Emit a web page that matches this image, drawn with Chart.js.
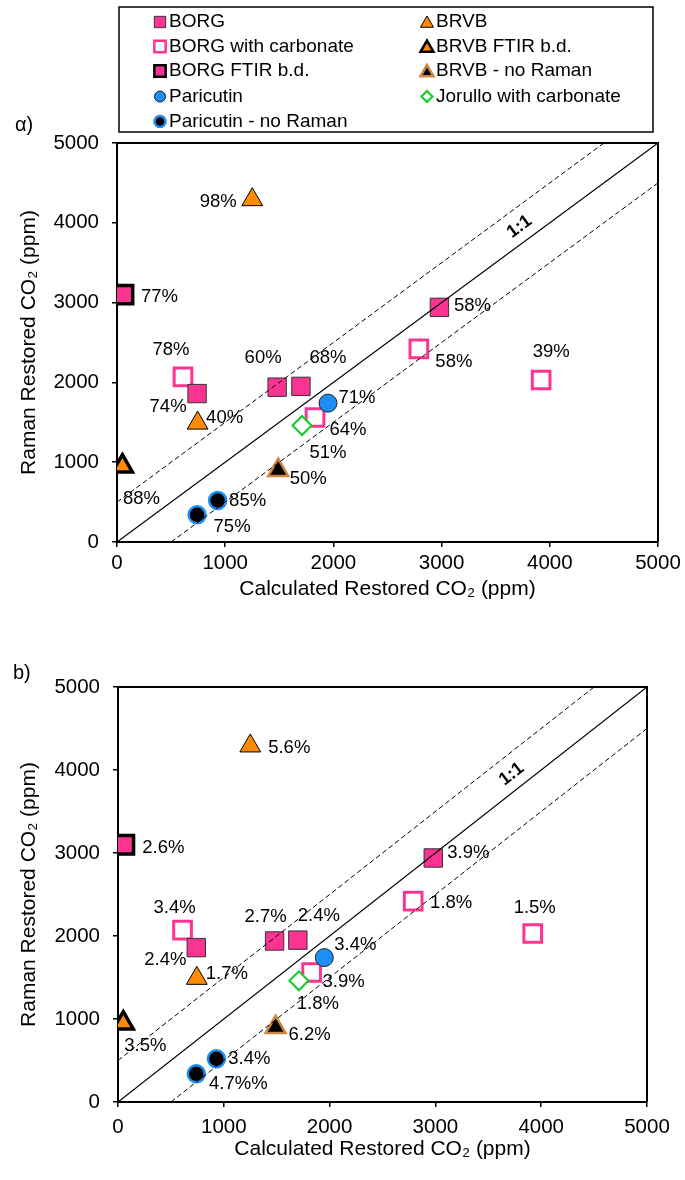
<!DOCTYPE html>
<html>
<head>
<meta charset="utf-8">
<script src="https://cdn.jsdelivr.net/npm/chart.js@4/dist/chart.umd.min.js"></script>
<style>
  html, body { margin: 0; padding: 0; background: #fff; }
  #wrap { position: relative; width: 685px; height: 1180px; overflow: hidden; }
  canvas { position: absolute; left: 0; }
  #chartA { top: 0; }
  #chartB { top: 610px; }
  .panel { position: absolute; font: 20px "Liberation Sans", Arial, sans-serif; color: #000; line-height: 1; }
</style>
</head>
<body>
<div id="wrap">
  <canvas id="chartA" width="685" height="610" style="width:685px;height:610px"></canvas>
  <canvas id="chartB" width="685" height="570" style="width:685px;height:570px"></canvas>
  <div class="panel" style="left:15px;top:114px">α)</div>
  <div class="panel" style="left:13px;top:662px">b)</div>
</div>
<script>
// ---- axis ticks ----
const tickValues = [0, 1000, 2000, 3000, 4000, 5000];
const tickLabels = ['0', '1000', '2000', '3000', '4000', '5000'];

// ---- guide lines (1:1 and +/-500 ppm) ----
const oneToOneX = [0, 5000];
const oneToOneY = [0, 5000];
const upperX = [0, 4500];
const upperY = [500, 5000];
const lowerX = [500, 5000];
const lowerY = [0, 4500];
const oneToOneTextAt = [3720, 3950];

// ---- series: calculated (x) vs Raman (y) restored CO2, ppm ----
const borgCalc = [2980, 1480, 1700, 740];
const borgRaman = [2940, 1940, 1950, 1860];
const borgPctA = ['58%', '60%', '68%', '74%'];
const borgPctB = ['3.9%', '2.7%', '2.4%', '2.4%'];

const borgCarbCalc = [610, 2790, 3920, 1830];
const borgCarbRaman = [2070, 2420, 2030, 1560];
const borgCarbPctA = ['78%', '58%', '39%', '64%'];
const borgCarbPctB = ['3.4%', '1.8%', '1.5%', '3.9%'];

const borgBdCalc = [60];
const borgBdRaman = [3100];
const borgBdPctA = ['77%'];
const borgBdPctB = ['2.6%'];

const paricutinCalc = [1950];
const paricutinRaman = [1740];
const paricutinPctA = ['71%'];
const paricutinPctB = ['3.4%'];

const paricutinNoRamanCalc = [930, 740];
const paricutinNoRamanRaman = [520, 340];
const paricutinNoRamanPctA = ['85%', '75%'];
const paricutinNoRamanPctB = ['3.4%', '4.7%%'];

const brvbCalc = [1250, 745];
const brvbRaman = [4290, 1490];
const brvbPctA = ['98%', '40%'];
const brvbPctB = ['5.6%', '1.7%'];

const brvbBdCalc = [50];
const brvbBdRaman = [950];
const brvbBdPctA = ['88%'];
const brvbBdPctB = ['3.5%'];

const brvbNoRamanCalc = [1490];
const brvbNoRamanRaman = [900];
const brvbNoRamanPctA = ['50%'];
const brvbNoRamanPctB = ['6.2%'];

const jorulloCalc = [1710];
const jorulloRaman = [1460];
const jorulloPctA = ['51%'];
const jorulloPctB = ['1.8%'];

// ---- label placement (pixel offsets of each percentage from its marker) ----
const offA = {
  borg: [[33, -1], [-14, -29], [27, -28], [-29, 13]],
  borgCarb: [[-12, -27], [35, 13], [10, -28], [33, 12]],
  borgBd: [[36, 2]],
  paricutin: [[29, -5]],
  paricutinNoRaman: [[30, 0], [35, 12]],
  brvb: [[-34, 2], [27, -5]],
  brvbBd: [[19, 33]],
  brvbNoRaman: [[30, 9]],
  jorullo: [[26, 27]]
};
const offB = {
  borg: [[35, -5], [-9, -24], [21, -24], [-31, 12]],
  borgCarb: [[-8, -22], [38, 2], [2, -26], [32, 9]],
  borgBd: [[39, 3]],
  paricutin: [[31, -13]],
  paricutinNoRaman: [[33, 0], [42, 10]],
  brvb: [[39, 2], [30, -4]],
  brvbBd: [[22, 23]],
  brvbNoRaman: [[34, 8]],
  jorullo: [[19, 23]]
};

// ---- marker styles ----
const PINK = '#fb3492';
const BLUE = '#1c8ef5';
const ORANGE = '#ff8c00';
const TAN = '#cd853f';
const GREEN = '#11cc22';

const styles = {
  borg: { pointStyle: 'rect', radius: 13, bg: PINK, border: '#333', bw: 1 },
  borgCarb: { pointStyle: 'rect', radius: 12.5, bg: '#fff', border: PINK, bw: 3 },
  borgBd: { pointStyle: 'rect', radius: 13, bg: PINK, border: '#000', bw: 3.5 },
  paricutin: { pointStyle: 'circle', radius: 9, bg: BLUE, border: '#222', bw: 1 },
  paricutinNoRaman: { pointStyle: 'circle', radius: 8.5, bg: '#000', border: BLUE, bw: 2.5 },
  brvb: { pointStyle: 'triangle', radius: 12, bg: ORANGE, border: '#000', bw: 1 },
  brvbBd: { pointStyle: 'triangle', radius: 11.5, bg: ORANGE, border: '#000', bw: 3.5 },
  brvbNoRaman: { pointStyle: 'triangle', radius: 11.5, bg: '#000', border: TAN, bw: 2.5 },
  jorullo: { pointStyle: 'rectRot', radius: 9.5, bg: '#fff', border: GREEN, bw: 2 }
};

// series table (drawing order: first entry ends up on top)
const series = [
  { key: 'jorullo', name: 'Jorullo with carbonate', x: jorulloCalc, y: jorulloRaman, a: jorulloPctA, b: jorulloPctB },
  { key: 'paricutin', name: 'Paricutin', x: paricutinCalc, y: paricutinRaman, a: paricutinPctA, b: paricutinPctB },
  { key: 'paricutinNoRaman', name: 'Paricutin - no Raman', x: paricutinNoRamanCalc, y: paricutinNoRamanRaman, a: paricutinNoRamanPctA, b: paricutinNoRamanPctB },
  { key: 'brvb', name: 'BRVB', x: brvbCalc, y: brvbRaman, a: brvbPctA, b: brvbPctB },
  { key: 'brvbBd', name: 'BRVB FTIR b.d.', x: brvbBdCalc, y: brvbBdRaman, a: brvbBdPctA, b: brvbBdPctB },
  { key: 'brvbNoRaman', name: 'BRVB - no Raman', x: brvbNoRamanCalc, y: brvbNoRamanRaman, a: brvbNoRamanPctA, b: brvbNoRamanPctB },
  { key: 'borg', name: 'BORG', x: borgCalc, y: borgRaman, a: borgPctA, b: borgPctB },
  { key: 'borgBd', name: 'BORG FTIR b.d.', x: borgBdCalc, y: borgBdRaman, a: borgBdPctA, b: borgBdPctB },
  { key: 'borgCarb', name: 'BORG with carbonate', x: borgCarbCalc, y: borgCarbRaman, a: borgCarbPctA, b: borgCarbPctB }
];

// legend layout: [series key, column, row]
const legendOrder = [
  ['borg', 0, 0], ['borgCarb', 0, 1], ['borgBd', 0, 2], ['paricutin', 0, 3], ['paricutinNoRaman', 0, 4],
  ['brvb', 1, 0], ['brvbBd', 1, 1], ['brvbNoRaman', 1, 2], ['jorullo', 1, 3]
];

const FONT = '"Liberation Sans", Arial, Helvetica, sans-serif';

function pts(xs, ys) { return xs.map((v, i) => ({ x: v, y: ys[i] })); }

function buildDatasets(panel) {
  const guide = (xs, ys, dash, w) => ({
    label: '', data: pts(xs, ys), showLine: true, pointRadius: 0,
    borderColor: '#000', borderWidth: w, borderDash: dash, fill: false
  });
  // guide lines come first so they are painted over the markers
  const ds = [
    guide(oneToOneX, oneToOneY, [], 1.2),
    guide(upperX, upperY, [5, 3], 1),
    guide(lowerX, lowerY, [5, 3], 1)
  ];
  series.forEach(s => {
    const st = styles[s.key];
    ds.push({
      label: s.name,
      data: pts(s.x, s.y),
      pct: panel === 'a' ? s.a : s.b,
      off: (panel === 'a' ? offA : offB)[s.key],
      pointStyle: st.pointStyle,
      pointRadius: st.radius,
      pointHoverRadius: st.radius,
      pointBackgroundColor: st.bg,
      pointBorderColor: st.border,
      pointBorderWidth: st.bw,
      showLine: false
    });
  });
  return ds;
}

// percentage labels next to each marker
const pctLabels = {
  id: 'pctLabels',
  afterDatasetsDraw(chart) {
    const ctx = chart.ctx;
    ctx.save();
    ctx.font = '18.5px ' + FONT;
    ctx.fillStyle = '#000';
    ctx.textAlign = 'center';
    ctx.textBaseline = 'middle';
    chart.data.datasets.forEach((d, i) => {
      if (!d.pct) return;
      const meta = chart.getDatasetMeta(i);
      meta.data.forEach((el, j) => {
        const o = d.off[j];
        ctx.fillText(d.pct[j], el.x + o[0], el.y + o[1]);
      });
    });
    ctx.restore();
  }
};

// frame on top/right + "1:1" tag
const frameAndTag = {
  id: 'frameAndTag',
  afterDraw(chart) {
    const ctx = chart.ctx, a = chart.chartArea;
    const xs = chart.scales.x, ys = chart.scales.y;
    ctx.save();
    ctx.strokeStyle = '#000';
    ctx.lineWidth = 2;
    ctx.beginPath();
    ctx.moveTo(a.left, a.top);
    ctx.lineTo(a.right, a.top);
    ctx.lineTo(a.right, a.bottom);
    ctx.stroke();
    const x0 = xs.getPixelForValue(oneToOneX[0]), y0 = ys.getPixelForValue(oneToOneY[0]);
    const x1 = xs.getPixelForValue(oneToOneX[1]), y1 = ys.getPixelForValue(oneToOneY[1]);
    const ang = Math.atan2(y1 - y0, x1 - x0);
    ctx.translate(xs.getPixelForValue(oneToOneTextAt[0]), ys.getPixelForValue(oneToOneTextAt[1]));
    ctx.rotate(ang);
    ctx.font = 'bold 18px ' + FONT;
    ctx.fillStyle = '#000';
    ctx.textAlign = 'center';
    ctx.textBaseline = 'middle';
    ctx.fillText('1:1', 0, 0);
    ctx.restore();
  }
};

function marker(ctx, st, x, y, r) {
  ctx.save();
  ctx.fillStyle = st.bg;
  ctx.strokeStyle = st.border;
  ctx.lineWidth = st.bw;
  const opts = { pointStyle: st.pointStyle, radius: r, rotation: 0, borderWidth: st.bw };
  Chart.helpers.drawPoint(ctx, opts, x, y);
  ctx.restore();
}

// two-column key above panel a
const keyBox = {
  id: 'keyBox',
  afterDraw(chart) {
    const ctx = chart.ctx;
    ctx.save();
    ctx.strokeStyle = '#000';
    ctx.lineWidth = 1.5;
    ctx.strokeRect(119, 7, 534, 125);
    ctx.font = '19px ' + FONT;
    ctx.textBaseline = 'middle';
    const rowsY = [22, 46.5, 71, 96.5, 121.5];
    const markX = [160, 427];
    const textX = [169, 436];
    legendOrder.forEach(([key, col, row]) => {
      const st = styles[key];
      const s = series.find(q => q.key === key);
      const r = { rect: 8, circle: 5.5, triangle: 7.5, rectRot: 5.5 }[st.pointStyle];
      const lst = Object.assign({}, st, { bw: st.bw > 2 ? 2.5 : st.bw });
      marker(ctx, lst, markX[col], rowsY[row] + (st.pointStyle === 'triangle' ? 1.5 : 0), r);
      ctx.fillStyle = '#000';
      ctx.fillText(s.name, textX[col], rowsY[row]);
    });
    ctx.restore();
  }
};

function axisOpts(title, fixedSize, isX, tickPad, titlePad) {
  return {
    type: 'linear',
    min: 0,
    max: 5000,
    afterBuildTicks(scale) { scale.ticks = tickValues.map(v => ({ value: v })); },
    afterFit(scale) { if (isX) scale.height = fixedSize; else scale.width = fixedSize; },
    grid: { drawOnChartArea: false, drawTicks: true, tickLength: 5, color: '#000', lineWidth: 1.5 },
    border: { display: true, color: '#000', width: 2 },
    ticks: {
      color: '#000', font: { family: FONT, size: 20.5 }, padding: tickPad, maxRotation: 0, autoSkip: false,
      callback: (v) => tickLabels[tickValues.indexOf(v)]
    },
    title: { display: true, text: title, color: '#000', font: { family: FONT, size: 21 }, padding: titlePad }
  };
}

function makeChart(id, panel, geom) {
  return new Chart(document.getElementById(id), {
    type: 'scatter',
    data: { datasets: buildDatasets(panel) },
    options: {
      responsive: false,
      devicePixelRatio: 1,
      animation: false,
      events: [],
      layout: { padding: { top: geom.top, right: geom.right, left: 0, bottom: 0 } },
      plugins: { legend: { display: false }, tooltip: { enabled: false } },
      scales: {
        x: axisOpts('Calculated Restored CO\u2082 (ppm)', geom.xh, true, geom.xTickPad, { top: 0, bottom: geom.xTitlePad }),
        y: axisOpts('Raman Restored CO\u2082 (ppm)', geom.yw, false, 13, { top: 17, bottom: 0 })
      }
    },
    plugins: panel === 'a' ? [pctLabels, frameAndTag, keyBox] : [pctLabels, frameAndTag]
  });
}

makeChart('chartA', 'a', { top: 143, right: 27, xh: 68, yw: 117, xTickPad: 4, xTitlePad: 8 });
makeChart('chartB', 'b', { top: 77, right: 38, xh: 78, yw: 118, xTickPad: 8, xTitlePad: 18 });
</script>
</body>
</html>
